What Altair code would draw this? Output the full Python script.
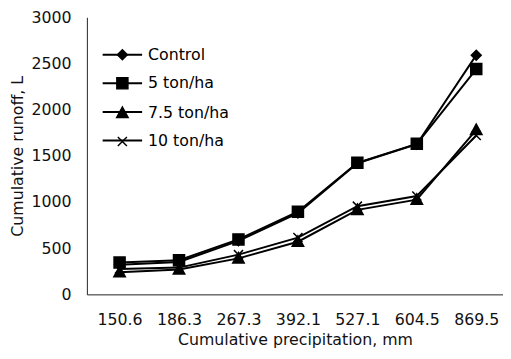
import altair as alt
import pandas as pd

precip = ["150.6", "186.3", "267.3", "392.1", "527.1", "604.5", "869.5"]
series_names = ["Control", "5 ton/ha", "7.5 ton/ha", "10 ton/ha"]
control = [320, 350, 580, 880, 1420, 1625, 2590]
t5 = [345, 370, 595, 895, 1425, 1630, 2440]
t75 = [240, 270, 390, 570, 915, 1025, 1780]
t10 = [275, 290, 430, 615, 955, 1065, 1720]

rows = []
for name, vals in zip(series_names, [control, t5, t75, t10]):
    for p, v in zip(precip, vals):
        rows.append({"precip": p, "runoff": v, "series": name})
df = pd.DataFrame(rows)

# marker shapes (scaled by sqrt(size)/2 = 20 px)
marker_shapes = [
    "M0,-0.25L0.25,0L0,0.25L-0.25,0Z",
    "M-0.28,-0.28H0.28V0.28H-0.28Z",
    "M0,-0.3L0.29,0.23H-0.29Z",
    "M-0.23,-0.23L0.23,0.23M-0.23,0.23L0.23,-0.23",
]
blacks = ["black"] * 4

font = "DejaVu Sans"
SYM = 1600

x_enc = alt.X(
    "precip:N",
    sort=precip,
    scale=alt.Scale(type="point", padding=0.5, align=0.55),
    axis=alt.Axis(
        title="Cumulative precipitation, mm",
        labelAngle=0,
        ticks=False,
        labelPadding=18,
        titlePadding=4,
        domainColor="#222",
        domainWidth=1,
        grid=False,
    ),
)
y_enc = alt.Y(
    "runoff:Q",
    scale=alt.Scale(domain=[0, 3000], nice=False),
    axis=alt.Axis(
        title="Cumulative runoff, L",
        values=[0, 500, 1000, 1500, 2000, 2500, 3000],
        format="d",
        ticks=False,
        labelPadding=16,
        titlePadding=6,
        domainColor="#222",
        domainWidth=1,
        grid=False,
    ),
)

common_leg = dict(
    title=None,
    orient="none",
    legendX=15,
    legendY=17,
    padding=0,
    symbolSize=SYM,
    labelOffset=5,
    rowPadding=-11,
    labelFont=font,
    labelFontSize=16,
    labelColor="black",
)

lines = alt.Chart(df).mark_line(strokeWidth=2).encode(
    x=x_enc,
    y=y_enc,
    color=alt.Color(
        "series:N",
        sort=series_names,
        scale=alt.Scale(range=blacks),
        legend=alt.Legend(
            symbolType="stroke",
            symbolStrokeWidth=2,
            symbolStrokeColor="black",
            labelOpacity=0,
            **common_leg,
        ),
    ),
)

points = alt.Chart(df).mark_point(
    filled=True, fill="black", stroke="black", strokeWidth=1.5, opacity=1, size=SYM
).encode(
    x=x_enc,
    y=y_enc,
    shape=alt.Shape(
        "series:N",
        scale=alt.Scale(domain=series_names, range=marker_shapes),
        legend=alt.Legend(
            symbolFillColor="black",
            symbolOpacity=1,
            **common_leg,
        ),
    ),
)

chart = (
    alt.layer(lines, points)
    .properties(
        width=422,
        height=281,
        autosize=alt.AutoSizeParams(type="none"),
        padding={"left": 80, "top": 7, "right": 0, "bottom": 55},
    )
    .configure_view(stroke=None)
    .configure_axis(
        labelFont=font,
        labelFontSize=16,
        labelColor="#111",
        titleFont=font,
        titleFontSize=16,
        titleFontWeight="normal",
        titleColor="#111",
    )
)

chart.save("out.html", embed_options={"renderer": "svg", "actions": False})
